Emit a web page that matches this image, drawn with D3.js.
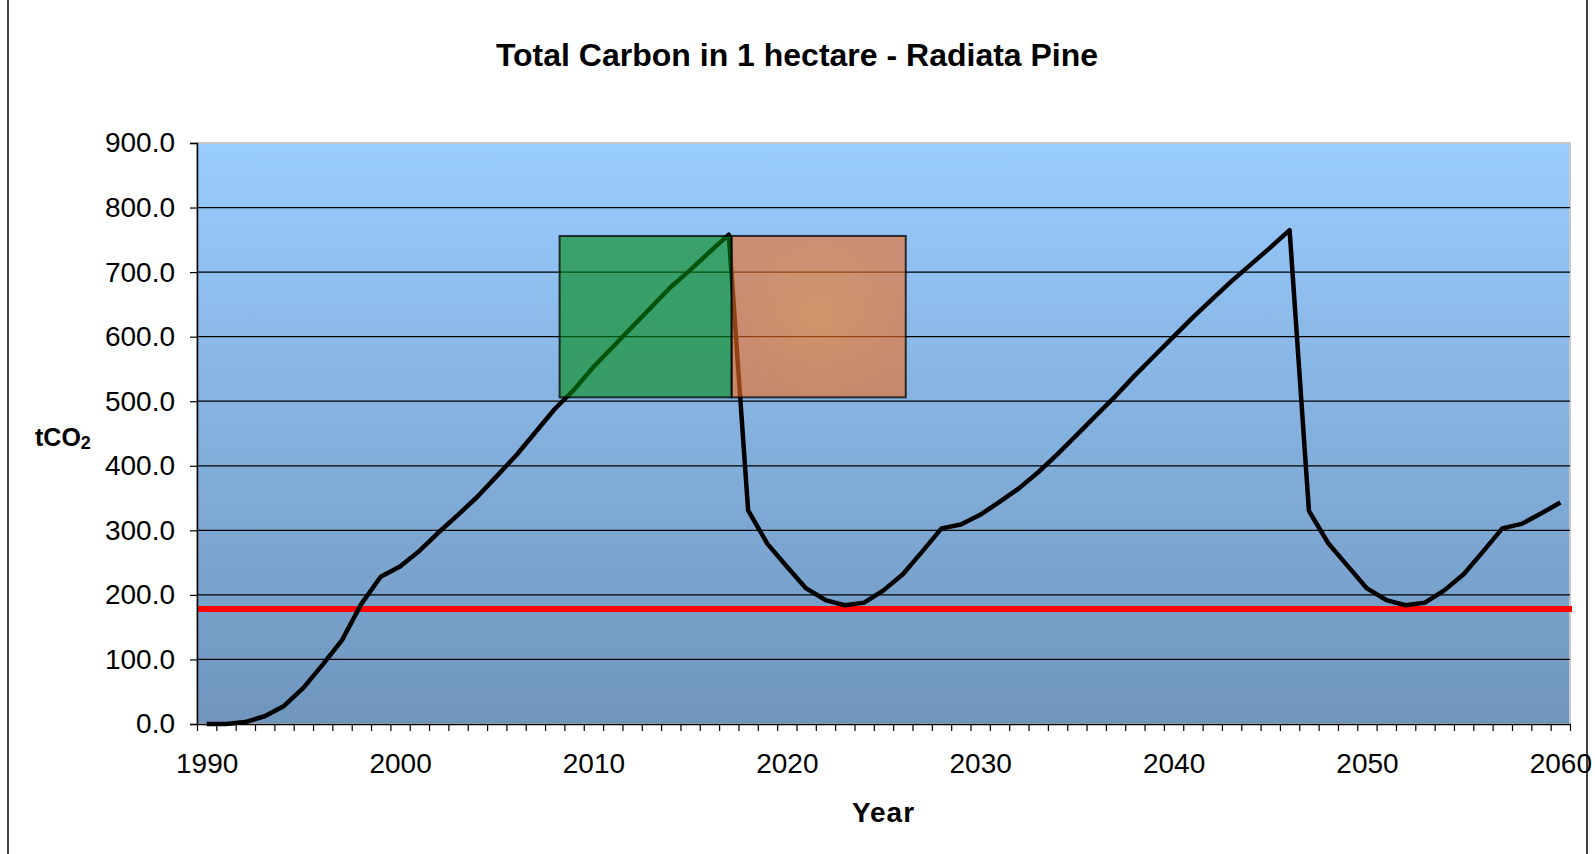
<!DOCTYPE html>
<html>
<head>
<meta charset="utf-8">
<script src="https://cdn.jsdelivr.net/npm/d3@7"></script>
<style>
  html, body { margin: 0; padding: 0; background: #fff; }
  svg { display: block; font-family: "Liberation Sans", Arial, sans-serif; }
</style>
</head>
<body>
<div id="chart"></div>
<script>
(function() {
  // Categories (one per year) and the carbon series
  const years = [
    1990, 1991, 1992, 1993, 1994, 1995, 1996, 1997, 1998, 1999,
    2000, 2001, 2002, 2003, 2004, 2005, 2006, 2007, 2008, 2009,
    2010, 2011, 2012, 2013, 2014, 2015, 2016, 2017, 2018, 2019,
    2020, 2021, 2022, 2023, 2024, 2025, 2026, 2027, 2028, 2029,
    2030, 2031, 2032, 2033, 2034, 2035, 2036, 2037, 2038, 2039,
    2040, 2041, 2042, 2043, 2044, 2045, 2046, 2047, 2048, 2049,
    2050, 2051, 2052, 2053, 2054, 2055, 2056, 2057, 2058, 2059, 2060
  ];
  const carbon = [
    0, 0, 3, 12, 28, 56, 92, 130, 186, 228,
    244, 268, 297, 324, 352, 384, 416, 452, 488, 518,
    553, 584, 615, 646, 677, 703, 731, 758, 331, 279,
    244, 210, 192, 184, 188, 207, 232, 267, 303, 309,
    324, 344, 365, 390, 418, 448, 478, 508, 540, 570,
    600, 630, 658, 686, 712, 738, 765, 330, 280, 245,
    210, 192, 184, 188, 207, 232, 267, 303, 310, 326, 343
  ];
  const yTicks = [0, 100, 200, 300, 400, 500, 600, 700, 800, 900];
  const xLabels = [1990, 2000, 2010, 2020, 2030, 2040, 2050, 2060];
  const baseline = 178;

  // Highlight boxes: [from year, to year, low, high]
  const boxNames = ["green", "orange"];
  const boxFrom = [2008.25, 2017.15];
  const boxTo = [2017.15, 2026.15];
  const boxLow = [506, 506];
  const boxHigh = [756, 756];

  const W = 1595, H = 854;
  const plot = { left: 197, right: 1570, top: 143, bottom: 724 };

  const svg = d3.select("#chart").append("svg")
    .attr("width", W).attr("height", H);

  const defs = svg.append("defs");
  const bg = defs.append("linearGradient").attr("id", "plotBg")
    .attr("x1", 0).attr("y1", 0).attr("x2", 0).attr("y2", 1);
  bg.append("stop").attr("offset", "0%").attr("stop-color", "#99CCFF");
  bg.append("stop").attr("offset", "100%").attr("stop-color", "#6F95BC");

  const og = defs.append("radialGradient").attr("id", "orangeFill");
  og.append("stop").attr("offset", "0%").attr("stop-color", "#FF7A14");
  og.append("stop").attr("offset", "100%").attr("stop-color", "#F26C20");

  // Scales: category centres sit on whole years
  const x = d3.scaleLinear()
    .domain([years[0] - 0.5, years[years.length - 1] + 0.5])
    .range([plot.left, plot.right]);
  const y = d3.scaleLinear().domain([0, 900]).range([plot.bottom, plot.top]);

  // Outer chart frame
  svg.append("rect")
    .attr("x", 8).attr("y", -10).attr("width", 1579).attr("height", H + 20)
    .attr("fill", "none").attr("stroke", "#000").attr("stroke-width", 1.5);

  // Title
  svg.append("text")
    .attr("x", 797).attr("y", 66)
    .attr("text-anchor", "middle")
    .attr("font-size", 32).attr("font-weight", "bold")
    .text("Total Carbon in 1 hectare - Radiata Pine");

  // Plot background
  svg.append("rect")
    .attr("x", plot.left).attr("y", plot.top)
    .attr("width", plot.right - plot.left).attr("height", plot.bottom - plot.top)
    .attr("fill", "url(#plotBg)")
    .attr("stroke", "#C8C8C8").attr("stroke-width", 2);

  // Gridlines
  svg.append("g").selectAll("line")
    .data(yTicks.filter(d => d > 0 && d < 900))
    .join("line")
    .attr("x1", plot.left).attr("x2", plot.right)
    .attr("y1", d => y(d)).attr("y2", d => y(d))
    .attr("stroke", "#000").attr("stroke-width", 1.2);

  // Baseline (red)
  svg.append("line")
    .attr("x1", plot.left).attr("x2", plot.right + 2)
    .attr("y1", y(baseline)).attr("y2", y(baseline))
    .attr("stroke", "#FF0000").attr("stroke-width", 6);

  // Carbon line
  const line = d3.line()
    .x((d, i) => x(years[i]))
    .y(d => y(d));
  svg.append("path")
    .datum(carbon)
    .attr("d", line)
    .attr("fill", "none")
    .attr("stroke", "#000")
    .attr("stroke-width", 4.5)
    .attr("stroke-linejoin", "round");

  // Semi-transparent highlight boxes
  svg.append("g").selectAll("rect")
    .data(boxNames)
    .join("rect")
    .attr("x", (d, i) => x(boxFrom[i]))
    .attr("width", (d, i) => x(boxTo[i]) - x(boxFrom[i]))
    .attr("y", (d, i) => y(boxHigh[i]))
    .attr("height", (d, i) => y(boxLow[i]) - y(boxHigh[i]))
    .attr("fill", d => d === "green" ? "#008A10" : "url(#orangeFill)")
    .attr("fill-opacity", 0.6)
    .attr("stroke", "#000").attr("stroke-opacity", 0.75).attr("stroke-width", 2);

  // Y axis
  const yAxis = svg.append("g")
    .attr("transform", `translate(${plot.left},0)`)
    .call(d3.axisLeft(y).tickValues(yTicks).tickFormat(d3.format(".1f"))
      .tickSize(7).tickPadding(15));
  yAxis.select(".domain").attr("stroke", "#000").attr("stroke-width", 1.5);
  yAxis.selectAll(".tick line").attr("stroke", "#000").attr("stroke-width", 1.2);
  yAxis.selectAll("text").attr("font-size", 28).attr("fill", "#000")
    .attr("font-family", "'Liberation Sans', Arial, sans-serif");

  // X axis: tick marks between categories
  const bounds = years.concat([years[years.length - 1] + 1]).map(v => v - 0.5);
  const xTickAxis = svg.append("g")
    .attr("transform", `translate(0,${plot.bottom})`)
    .call(d3.axisBottom(x).tickValues(bounds).tickFormat("").tickSize(7).tickSizeOuter(0));
  xTickAxis.select(".domain").attr("stroke", "#000").attr("stroke-width", 1.5);
  xTickAxis.selectAll(".tick line").attr("stroke", "#000").attr("stroke-width", 1.2);

  // X axis labels centred on the category
  const xLabelAxis = svg.append("g")
    .attr("transform", `translate(0,${plot.bottom})`)
    .call(d3.axisBottom(x).tickValues(xLabels).tickFormat(d3.format("d"))
      .tickSize(0).tickPadding(29));
  xLabelAxis.select(".domain").remove();
  xLabelAxis.selectAll("text").attr("font-size", 28).attr("fill", "#000")
    .attr("font-family", "'Liberation Sans', Arial, sans-serif");

  // Axis titles
  svg.append("text")
    .attr("x", (plot.left + plot.right) / 2).attr("y", 822)
    .attr("text-anchor", "middle")
    .attr("font-size", 28).attr("font-weight", "bold")
    .attr("letter-spacing", 1)
    .text("Year");

  const yTitle = svg.append("text")
    .attr("x", 35).attr("y", 446)
    .attr("font-size", 25).attr("font-weight", "bold");
  yTitle.append("tspan").text("tCO");
  yTitle.append("tspan").attr("font-size", 18).attr("dy", 3).text("2");
})();
</script>
</body>
</html>
